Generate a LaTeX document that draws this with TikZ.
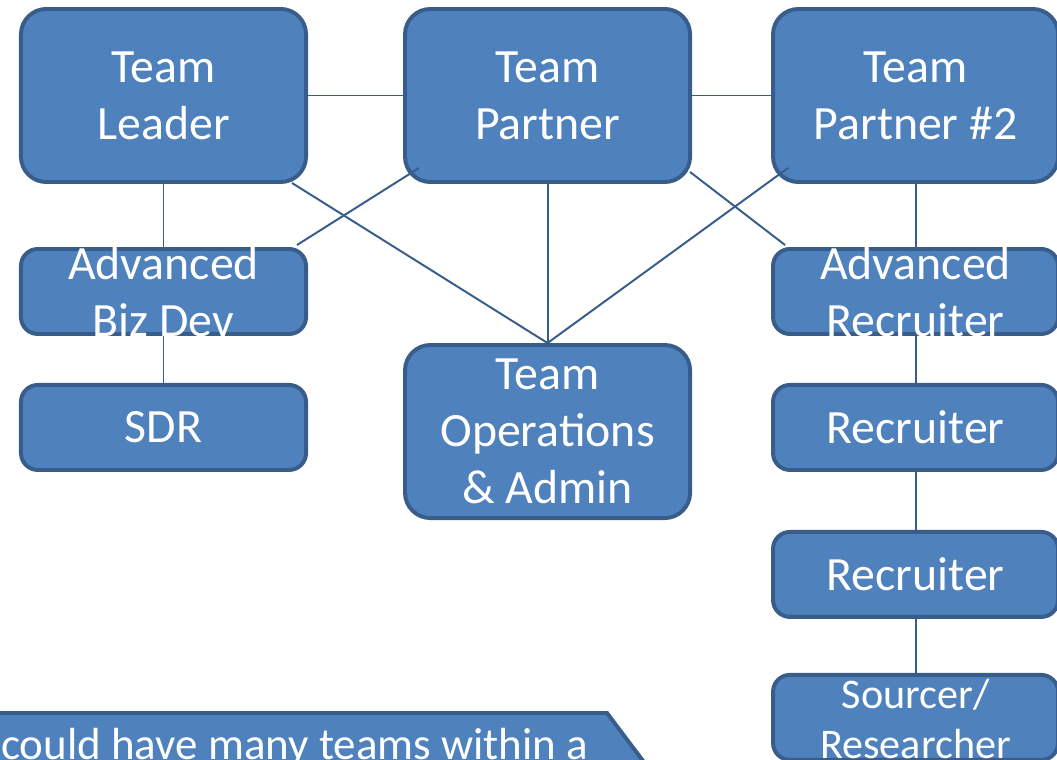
\documentclass[tikz,border=0pt]{standalone}
\usepackage{fontspec}
\setmainfont{Carlito}
\usetikzlibrary{positioning,calc}
\definecolor{boxblue}{RGB}{79,129,189}
\definecolor{edgeblue}{RGB}{56,93,138}
\tikzset{
  bigbox/.style={draw=edgeblue, line width=2.8pt, fill=boxblue, rounded corners=18pt, minimum width=7.125cm, minimum height=4.325cm, align=center, text=white, inner sep=0pt, font=\fontsize{34}{40.5}\selectfont},
  smallbox/.style={bigbox, rounded corners=12pt, minimum height=2.125cm},
  lbl/.style={text=white, align=center, inner sep=0pt, font=\fontsize{34}{40.5}\selectfont},
  link/.style={draw=edgeblue, line width=1.4pt},
  callout/.style={draw=edgeblue, line width=2.8pt, fill=boxblue}
}

\begin{document}
\begin{tikzpicture}[x=0.025cm, y=-0.025cm]
\useasboundingbox (0,0) rectangle (1057,760);
\clip (0,0) rectangle (1057,760);
% top row
\node[bigbox] (tl) at (163.5,95.5) {Team\\Leader};
\node[bigbox, right=2.375cm of tl] (tp) {Team\\Partner};
\node[bigbox, right=1.975cm of tp] (tp2) {Team\\Partner \#2};
% left column
\node[smallbox, below=1.575cm of tl] (abd) {};
\node[lbl] at (abd) {Advanced\\Biz Dev};
\node[smallbox, below=1.175cm of abd] (sdr) {SDR};
% middle
\node[bigbox, below=3.975cm of tp] (ops) {Team\\Operations\\\& Admin};
% right column
\node[smallbox, below=1.575cm of tp2] (ar) {};
\node[lbl] at (ar) {Advanced\\Recruiter};
\node[smallbox, below=1.175cm of ar] (rec1) {Recruiter};
\node[smallbox, below=1.45cm of rec1] (rec2) {Recruiter};
\node[smallbox, below=1.35cm of rec2] (src) {};
\node[lbl, font=\fontsize{30}{35.5}\selectfont] at ($(src)+(0,2)$) {Sourcer/\\Researcher};
% links
\draw[link] (tl) -- (tp);
\draw[link] (tp) -- (tp2);
\draw[link] (tl) -- (abd);
\draw[link] (abd) -- (sdr);
\draw[link] (tp) -- (ops);
\draw[link] (tp2) -- (ar);
\draw[link] (ar) -- (rec1);
\draw[link] (rec1) -- (rec2);
\draw[link] (rec2) -- (src);
\draw[link] ($(tl.south east)+(-16,-1)$) -- (ops.north);
\draw[link] ($(abd.north east)+(-11,-2)$) -- ($(tp.south west)+(16,-16)$);
\draw[link] ($(tp.south east)+(-2,-12)$) -- ($(ar.north west)+(14,-2)$);
\draw[link] ($(tp2.south west)+(17,-16)$) -- (ops.north);
% note at the bottom
\draw[callout] (-20,713) -- (607,713) -- (680,810) -- (-20,810) -- cycle;
\node[text=white, anchor=base west, inner sep=0pt, font=\fontsize{32}{38}\selectfont] (note) at (1,759) {could have many teams within a};
\end{tikzpicture}
\end{document}
